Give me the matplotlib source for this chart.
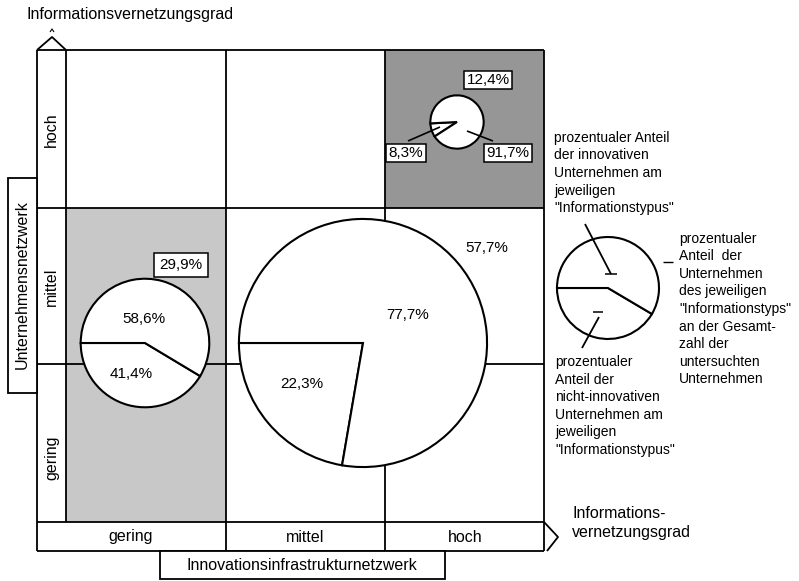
import matplotlib.pyplot as plt
from matplotlib.patches import Rectangle

# Informationstypen (Zeile im Raster von oben, Spalte von links)
row_labels = ['hoch', 'mittel', 'gering']
col_labels = ['gering', 'mittel', 'hoch']
total_share = [12.4, 29.9, 57.7]            # Anteil an allen Unternehmen
innov_share = [91.7, 58.6, 77.7]            # innovative Unternehmen
non_innov_share = [8.3, 41.4, 22.3]         # nicht-innovative Unternehmen
legend_share = [41.5, 58.5]
light_cells = [(1, 0), (2, 0)]
dark_cells = [(0, 2)]

W, H = 799, 581
FONT = 'Liberation Sans'
GX = [66, 226, 385, 544]
GY = [50, 208, 364, 522]
X0 = 37
YB = 551
LW = 1.3


def py(y):
    # Bildkoordinate (von oben) -> Achsenkoordinate
    return H - y


def line(ax, xs, ys, lw=LW, z=2):
    ax.plot(xs, [py(v) for v in ys], color='black', lw=lw, zorder=z,
            solid_capstyle='butt')


def label(ax, x, y, s, size=11.5, **kw):
    kw.setdefault('ha', 'center')
    kw.setdefault('va', 'center')
    ax.text(x, py(y), s, fontsize=size, family=FONT, zorder=6, **kw)


def boxed(ax, x, y, s, pad=0.15):
    label(ax, x, y, s, size=11,
          bbox=dict(boxstyle='square,pad=%s' % pad, fc='white', ec='black', lw=1.1))


def draw_pie(ax, values, cx, cy, r, start):
    ax.pie(values, center=(cx, py(cy)), radius=r, startangle=start,
           counterclock=True, colors=['white', 'white'],
           wedgeprops=dict(edgecolor='black', linewidth=1.5, zorder=3))


fig = plt.figure(figsize=(W / 100, H / 100), dpi=100)
ax = fig.add_axes([0, 0, 1, 1])

# Schattierte Felder
for cells, fc in ((light_cells, '#c8c8c8'), (dark_cells, '#969696')):
    for r, c in cells:
        ax.add_patch(Rectangle((GX[c], py(GY[r + 1])), GX[c + 1] - GX[c],
                               GY[r + 1] - GY[r], fc=fc, ec='none', zorder=1))

# Raster und Randleisten
for y in GY:
    line(ax, [X0, GX[-1]], [y, y])
line(ax, [X0, GX[-1]], [YB, YB])
line(ax, [X0, X0], [GY[0], YB])
line(ax, [GX[-1], GX[-1]], [GY[0], YB])
for x in GX[:-1]:
    line(ax, [x, x], [GY[0], GY[-1]])
for x in GX[1:-1]:
    line(ax, [x, x], [GY[-1], YB])

# Pfeilspitzen
line(ax, [X0, 52, GX[0]], [GY[0], 37, GY[0]])
line(ax, [50, 52, 54], [32, 29, 32], lw=0.8)
line(ax, [GX[-1], 558, GX[-1] + 3], [GY[-1], 537, YB])

# Achsenbeschriftungen
row_pos = [130, 287, 458]
for s, y in zip(row_labels, row_pos):
    label(ax, 51.5, y, s, rotation=90)
col_pos = [131, 305, 465]
for s, x in zip(col_labels, col_pos):
    label(ax, x, 537, s)

ax.add_patch(Rectangle((8, py(393)), 29, 215, fc='white', ec='black', lw=LW, zorder=2))
label(ax, 22.5, 285, 'Unternehmensnetzwerk', rotation=90)
ax.add_patch(Rectangle((160, py(579)), 285, 28, fc='white', ec='black', lw=LW, zorder=2))
label(ax, 302, 565, 'Innovationsinfrastrukturnetzwerk')
label(ax, 27, 14, 'Informationsvernetzungsgrad', size=11.5, ha='left')
label(ax, 572, 523, 'Informations-\nvernetzungsgrad', size=11.5, ha='left',
      linespacing=1.3)

# Kreise: Radius proportional zum Gesamtanteil
k = 2.15
centers = [(457, 122), (145, 343), (363, 343)]
starts = [183, 180, 180]
for (cx, cy), tot, non, inn, st in zip(centers, total_share, non_innov_share,
                                       innov_share, starts):
    draw_pie(ax, [non, inn], cx, cy, tot * k, st)

# Beschriftungen der Kreise
fmt = lambda v: ('%.1f%%' % v).replace('.', ',')
boxed(ax, 488, 80, fmt(total_share[0]))
boxed(ax, 406, 153, fmt(non_innov_share[0]))
boxed(ax, 508, 153, fmt(innov_share[0]))
line(ax, [408, 440], [141, 127], lw=1.2, z=4)
line(ax, [493, 467], [141, 131], lw=1.2, z=4)

boxed(ax, 181, 265, fmt(total_share[1]), pad=0.35)
label(ax, 144, 319, fmt(innov_share[1]), size=11)
label(ax, 131, 374, fmt(non_innov_share[1]), size=11)

label(ax, 487, 248, fmt(total_share[2]), size=11)
label(ax, 408, 315, fmt(innov_share[2]), size=11)
label(ax, 302, 384, fmt(non_innov_share[2]), size=11)

# Legende
draw_pie(ax, legend_share, 608, 288, 51, 180)
line(ax, [585, 611], [224, 274], lw=1.3, z=4)
line(ax, [605, 617], [274, 274], lw=1.1, z=4)
line(ax, [593, 603], [312, 312], lw=1.1, z=4)
line(ax, [599, 582], [317, 348], lw=1.3, z=4)
line(ax, [663, 673], [262, 262], lw=1.0, z=4)

LS = 1.32
label(ax, 554, 173, 'prozentualer Anteil\nder innovativen\nUnternehmen am\n'
      'jeweiligen\n"Informationstypus"', size=10, ha='left', linespacing=LS)
label(ax, 679, 309, 'prozentualer\nAnteil  der\nUnternehmen\ndes jeweiligen\n'
      '"Informationstyps"\nan der Gesamt-\nzahl der\nuntersuchten\nUnternehmen',
      size=10, ha='left', linespacing=LS)
label(ax, 555, 406, 'prozentualer\nAnteil der\nnicht-innovativen\n'
      'Unternehmen am\njeweiligen\n"Informationstypus"', size=10, ha='left',
      linespacing=LS)

ax.set_xlim(0, W)
ax.set_ylim(0, H)
ax.set_aspect('auto')
ax.axis('off')
fig.savefig('out.png', dpi=100)
